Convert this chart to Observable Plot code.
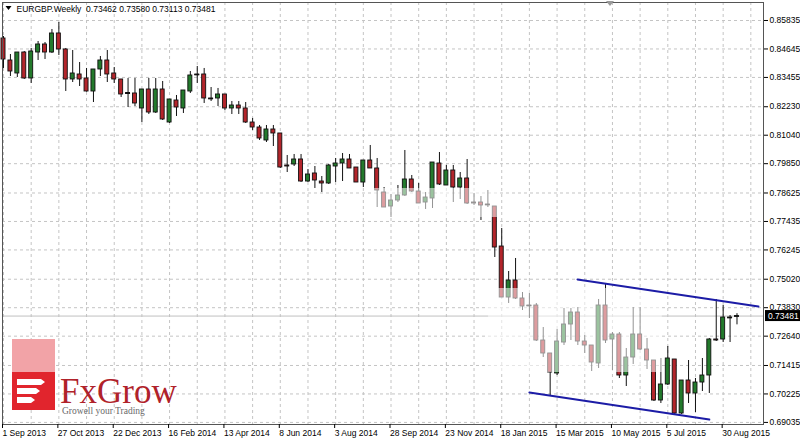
<!DOCTYPE html>
<html><head><meta charset="utf-8">
<script src="https://cdn.jsdelivr.net/npm/d3@7"></script>
<script src="https://cdn.jsdelivr.net/npm/@observablehq/plot@0.6"></script>
<style>
html,body{margin:0;padding:0;background:#fff;}
#chart{position:relative;width:800px;height:440px;}
</style></head><body><div id="chart"></div>
<script>
// ---- data (weekly bars, index 0 = week of 1 Sep 2013) ----
const symbolTitle = "EURGBP.Weekly\u00a0\u00a00.73462 0.73580 0.73113 0.73481";
const opens = [
.85083,.84163,.8362,.84497,.83411,.84497,.84832,.84497,.85292,.84623,
.83369,.83578,.83411,.82867,.83787,.84163,.8362,.83369,.82805,.82784,
.82157,.82951,.81989,.82951,.81571,.82491,.82157,.82867,.83578,.83578,
.82575,.82575,.82742,.82157,.82282,.82157,.81571,.81362,.80819,.81279,
.81112,.79774,.79816,.80025,.79105,.7944,.79105,.79022,.79732,.79858,
.80025,.7969,.79063,.79983,.79649,.78645,.7806,.78311,.7852,.79189,
.78687,.78227,.78395,.79858,.78938,.79565,.78854,.79231,.78227,.78227,
.78144,.7806,.76388,.74256,.74967,.74215,.73922,.73922,.72459,.71916,
.7108,.72375,.73128,.73629,.72417,.7225,.71498,.73922,.72501,.7271,
.70996,.71748,.7271,.72083,.71623,.69951,.7062,.71665,.69408,.70787,
.70244,.70703,.70996,.72501,.72501,.7342,.73462];
const highs = [
.85166,.84414,.84497,.84539,.84665,.84957,.84915,.85459,.85751,.84665,
.84581,.84079,.83829,.83787,.8433,.84581,.8387,.83369,.83411,.83411,
.82951,.83411,.83411,.83285,.82533,.827,.82909,.83703,.83912,.83829,
.83034,.82993,.82742,.82449,.82449,.82407,.81739,.81446,.81446,.81446,
.81112,.80192,.80234,.80234,.79607,.79732,.79314,.79816,.80067,.80276,
.80234,.7969,.79983,.8061,.80067,.78854,.78562,.78938,.80401,.79356,
.79022,.78645,.79899,.80317,.79774,.79774,.79481,.80025,.78604,.78478,
.78729,.7806,.77141,.75343,.75887,.74465,.74424,.74006,.73002,.71916,
.72919,.73797,.73797,.73838,.72668,.7225,.74173,.74842,.72793,.72793,
.72125,.73838,.73838,.72543,.71623,.71707,.72208,.71665,.70787,.71623,
.70871,.71707,.72543,.74173,.73922,.73504,.7358];
const lows = [
.83829,.83494,.83452,.83369,.83202,.84163,.84205,.84456,.84372,.82867,
.83243,.83076,.8284,.82407,.83494,.83243,.83202,.82616,.82198,.8224,
.81571,.81906,.81948,.81655,.8153,.81822,.81948,.82784,.83202,.82366,
.82449,.8224,.82073,.81906,.81906,.8153,.81237,.80819,.80735,.80568,
.79649,.79481,.79732,.79063,.79063,.78813,.78645,.7898,.79063,.79105,
.79649,.79063,.78854,.79649,.78018,.78018,.776,.78227,.78478,.78645,
.78186,.77935,.77977,.78938,.78938,.78227,.78353,.78144,.78102,.77475,
.78018,.75928,.74256,.74006,.74173,.73713,.73379,.72417,.71748,.7016,
.70996,.7225,.72459,.7225,.71916,.71163,.71289,.72334,.71205,.70871,
.70536,.71456,.72041,.71247,.69909,.69826,.70578,.69366,.69366,.69826,
.69449,.70327,.70244,.72417,.72375,.72375,.73113];
const closes = [
.84205,.83703,.84497,.83411,.84539,.84832,.84497,.85292,.84623,.83369,
.8362,.83369,.82867,.83787,.84163,.83578,.83369,.82742,.82771,.82366,
.82951,.81989,.82951,.81697,.82533,.82198,.82909,.83536,.83557,.82575,
.82554,.82742,.82157,.82282,.82157,.81571,.81362,.80903,.81279,.81112,
.7969,.79732,.80025,.79105,.79398,.79147,.79022,.79774,.79858,.80025,
.79649,.79063,.79983,.79649,.78729,.78018,.78311,.7852,.79189,.78687,
.78186,.78436,.79899,.7898,.79565,.78854,.79231,.78186,.78186,.78102,
.78123,.76346,.74256,.74967,.74215,.7388,.73901,.72459,.71916,.71121,
.72417,.73128,.73629,.72417,.7225,.71539,.73922,.72459,.7271,.70996,
.71748,.7271,.72083,.71623,.69951,.7062,.71707,.69408,.70787,.70244,
.70703,.70996,.72501,.72459,.7342,.734,.73481];
const xTickWeeks = [0,8,16,24,32,40,48,56,64,72,80,88,96,104];
const xTickLabels = ["1 Sep 2013","27 Oct 2013","22 Dec 2013","16 Feb 2014","13 Apr 2014","8 Jun 2014","3 Aug 2014","28 Sep 2014","23 Nov 2014","18 Jan 2015","15 Mar 2015","10 May 2015","5 Jul 2015","30 Aug 2015"];
const yTicks = [0.85835,0.84645,0.83455,0.82230,0.81040,0.79850,0.78625,0.77435,0.76245,0.75020,0.73830,0.72640,0.71415,0.70225,0.69035];
const channelUpperWeeks = [82.95, 109.1];
const channelUpperPrices = [0.75009, 0.73880];
const channelLowerWeeks = [76.0, 102.0];
const channelLowerPrices = [0.70285, 0.69157];

// ---- build tables ----
const candles = opens.map((o, i) => ({i, o, h: highs[i], l: lows[i], c: closes[i]}));
const dojis = candles.filter(d => Math.abs(d.o - d.c) < 0.0004);
const upper = channelUpperWeeks.map((w, k) => ({w, p: channelUpperPrices[k]}));
const lower = channelLowerWeeks.map((w, k) => ({w, p: channelLowerPrices[k]}));
const gridWeeks = d3.range(0, 110, 4);
const labelByWeek = new Map(xTickWeeks.map((w, k) => [w, xTickLabels[k]]));
const lastClose = closes[closes.length - 1];
// translucent watermark areas of the screenshot
const fade = [
  {x1: 53.3, x2: 71.4, y1: 0.78813, y2: 0.7760},
  {x1: 70.1, x2: 95.2, y1: 0.74633, y2: 0.71121}
];

const GREEN = "#237a2c", RED = "#b3252b";

const chart = Plot.plot({
  width: 800, height: 440,
  marginLeft: 2, marginRight: 37, marginTop: 2, marginBottom: 16,
  style: {fontFamily: "'Liberation Sans', Arial, sans-serif", fontSize: "8.5px", color: "#000", background: "#fff", overflow: "visible"},
  x: {type: "linear", domain: [-0.145, 109.83]},
  y: {domain: [0.68948, 0.86587]},
  marks: [
    Plot.ruleY(yTicks, {stroke: "#c4c4c4", strokeDasharray: "3,3"}),
    Plot.ruleX(gridWeeks, {stroke: "#c4c4c4", strokeDasharray: "3,3"}),
    Plot.ruleY([lastClose], {stroke: "#c0c0c0"}),
    Plot.ruleX(candles, {x: "i", y1: "l", y2: "h", stroke: "#111", strokeWidth: 1}),
    Plot.rect(candles, {x1: d => d.i - 0.29, x2: d => d.i + 0.29, y1: "o", y2: "c",
      fill: d => d.c >= d.o ? GREEN : RED, stroke: "#111", strokeWidth: 0.9}),
    Plot.ruleY(dojis, {y: d => (d.o + d.c) / 2, x1: d => d.i - 0.36, x2: d => d.i + 0.36, stroke: "#111", strokeWidth: 1.2}),
    Plot.rect(fade, {x1: "x1", x2: "x2", y1: "y1", y2: "y2", fill: "#fff", fillOpacity: 0.55}),
    Plot.line(upper, {x: "w", y: "p", stroke: "#1c1ca6", strokeWidth: 2}),
    Plot.line(lower, {x: "w", y: "p", stroke: "#1c1ca6", strokeWidth: 2}),
    Plot.frame({stroke: "#555"}),
    Plot.axisY(yTicks, {anchor: "right", tickSize: 4, tickPadding: 2, tickFormat: d => d.toFixed(5), fill: "#000"}),
    Plot.axisX(xTickWeeks, {anchor: "bottom", tickSize: 4, tickPadding: 1, tickFormat: d => labelByWeek.get(d), textAnchor: "start", dx: -1, fill: "#000"}),
    Plot.text([symbolTitle], {frameAnchor: "top-left", dx: 14, dy: 3, lineAnchor: "top", textAnchor: "start", fontSize: 8.5, fill: "#000"})
  ]
});

document.getElementById("chart").appendChild(chart);

// decorations
const svg = d3.select(chart);
const ys = chart.scale("y");
// title triangle
svg.append("path").attr("d", "M5.5,6 L11.5,6 L8.5,10 Z").attr("fill", "#000");
// chart shift marker
svg.append("path").attr("d", "M606,1 L614,1 L610,6 Z").attr("fill", "#9a9a9a");
// current price label
const yc = ys.apply(lastClose);
svg.append("rect").attr("x", 765).attr("y", yc - 5.5).attr("width", 35).attr("height", 11).attr("fill", "#000");
svg.append("text").attr("x", 768).attr("y", yc).attr("dy", "0.35em").attr("fill", "#fff")
  .attr("text-anchor", "start").attr("font-size", 8.5).text(lastClose.toFixed(5));
// logo
const g = svg.append("g").attr("text-anchor", "start");
g.append("rect").attr("x", 12).attr("y", 339).attr("width", 43).attr("height", 33).attr("fill", "#f2a3a7");
g.append("rect").attr("x", 12).attr("y", 372).attr("width", 43).attr("height", 38).attr("fill", "#e1252d");
g.append("path").attr("fill", "#fff").attr("d",
  "M17,379 L41,379 L45,382 L41,385 L17,385 Z M17,388 L36,388 L40,391 L36,394 L17,394 Z M17,397 L31,397 L35,400 L31,403 L17,403 Z");
g.append("text").attr("x", 60).attr("y", 403).attr("text-anchor", "start").attr("font-family", "'Liberation Serif', serif")
  .attr("font-size", 35).attr("fill", "#b0222a").text("FxGrow");
g.append("text").attr("x", 62).attr("y", 414).attr("text-anchor", "start").attr("font-family", "'Liberation Serif', serif")
  .attr("font-size", 9.5).attr("fill", "#6a6a6a").text("Growell your Trading");
</script>
</body></html>
